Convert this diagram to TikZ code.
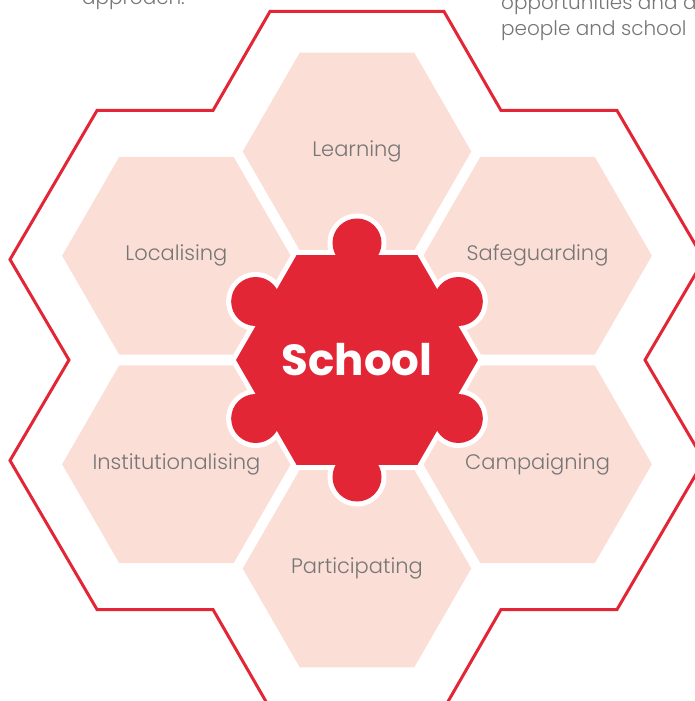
\documentclass[tikz,border=0pt]{standalone}
\usepackage{fontspec}
\setmainfont{Poppins}
\newfontfamily\lightfont{Poppins Light}
\newfontfamily\boldfont{Poppins Bold}
\definecolor{schred}{RGB}{227,38,54}
\definecolor{peach}{RGB}{251,222,213}
\definecolor{txtgray}{RGB}{118,118,118}
\begin{document}
\begin{tikzpicture}[x=1pt,y=1pt,
  hexlabel/.style={inner sep=0pt, text=txtgray, font=\lightfont\fontsize{21}{25}\selectfont},
  hubtext/.style={inner sep=0pt, text=white, font=\boldfont\fontsize{43.5}{50}\selectfont},
  knob/.style={circle, minimum size=49, inner sep=0pt, outer sep=0pt, fill=schred},
  outline/.style={draw=schred, line width=3pt, line join=miter},
  note/.style={anchor=base west, inner sep=0pt, text=txtgray, font=\lightfont\fontsize{20}{24}\selectfont}]
\clip (-357,-341) rectangle (338,360);
% outer red outline
\draw[outline] (-87,348.5) -- (87,348.5) -- (144,249.5) -- (260,249.5) -- (347,100.5) -- (288,0) -- (347,-100.5) -- (260,-249.5) -- (144,-249.5) -- (87,-348.5) -- (-87,-348.5) -- (-144,-249.5) -- (-260,-249.5) -- (-347,-100.5) -- (-288,0) -- (-347,100.5) -- (-260,249.5) -- (-144,249.5) -- cycle;
% six peach hexagons with labels
\foreach \a/\n/\t in {90/learn/Learning, 30/safe/Safeguarding, -30/camp/Campaigning, -90/part/Participating, -150/inst/Institutionalising, 150/local/Localising}{
  \fill[peach, shift={(\a:208.5)}] (0:114.3) -- (60:114.3) -- (120:114.3) -- (180:114.3) -- (240:114.3) -- (300:114.3) -- cycle;
  \node[hexlabel] (\n) at (\a:208.5) {\t};
}
% white rim of the hub
\fill[white] (0:126.8) -- (60:126.8) -- (120:126.8) -- (180:126.8) -- (240:126.8) -- (300:126.8) -- cycle;
\foreach \a in {30,90,150,210,270,330} \fill[white] (\a:117) circle (29.5);
% red hub with knobs
\foreach \a/\n in {30/a,90/b,150/c,210/d,270/e,330/f} \node[knob] (knob\n) at (\a:117) {};
\fill[schred] (0:121) -- (60:121) -- (120:121) -- (180:121) -- (240:121) -- (300:121) -- cycle;
\node[hubtext] (hub) at (0,0) {School};
% cut-off text at top
\node[note] (t1) at (-275,355) {approach.};
\node[note] (t2) at (144,350) {opportunities and a};
\node[note] (t3) at (144,324) {people and school};
\end{tikzpicture}
\end{document}
